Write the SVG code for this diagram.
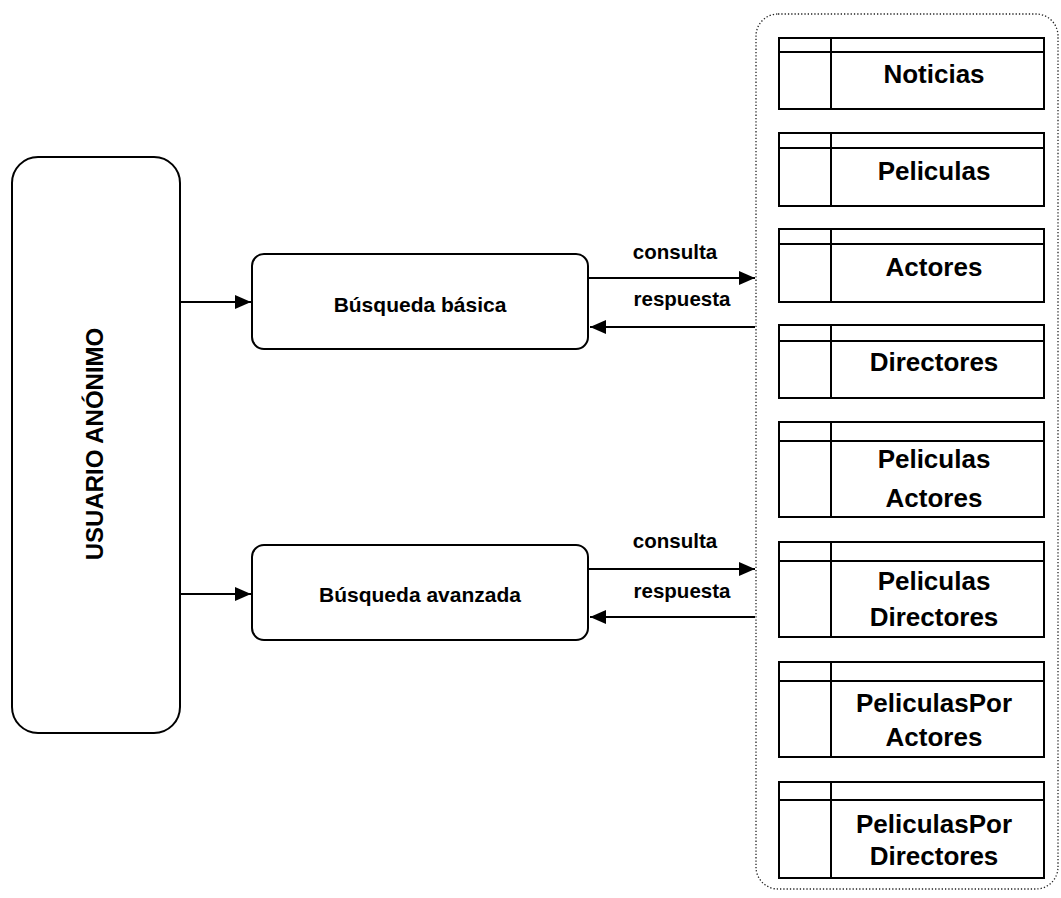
<svg xmlns="http://www.w3.org/2000/svg" width="1061" height="898" viewBox="0 0 1061 898">
<defs>
<marker id="ah" viewBox="0 0 16 14" refX="16" refY="7" markerWidth="16" markerHeight="14" markerUnits="userSpaceOnUse" orient="auto">
<path d="M0,0 L16,7 L0,14 Z" fill="#000"/>
</marker>
</defs>
<style>
.box{fill:#fff;stroke:#000;stroke-width:2}
.tbl{fill:#fff;stroke:#000;stroke-width:2}
.ln{stroke:#000;stroke-width:2;fill:none}
.t{font-family:"Liberation Sans",Arial,sans-serif;font-weight:bold;fill:#000}
.tt{font-size:26px;text-anchor:middle}
.bl{font-size:21px;text-anchor:middle}
.lb{font-size:20.5px;text-anchor:middle}
.cn{stroke:#000;stroke-width:2;fill:none;marker-end:url(#ah)}
</style>
<rect width="1061" height="898" fill="#fff"/>

<g id="container">
<rect x="756" y="14" width="302" height="875" rx="22" ry="22" fill="none" stroke="#222" stroke-width="1.3" stroke-dasharray="1.3,2"/>
</g>

<g id="usuario">
<rect class="box" x="12" y="157" width="168" height="576" rx="26" ry="26" stroke-width="1.6"/>
<text class="t" font-size="24" text-anchor="middle" transform="translate(103,444) rotate(-90)">USUARIO ANÓNIMO</text>
</g>

<g id="busqueda-basica">
<rect class="box" x="252" y="254" width="336" height="95" rx="12" ry="12"/>
<text class="t bl" x="420" y="312">Búsqueda básica</text>
</g>

<g id="busqueda-avanzada">
<rect class="box" x="252" y="545" width="336" height="95" rx="12" ry="12"/>
<text class="t bl" x="420" y="602">Búsqueda avanzada</text>
</g>

<g id="tbl-noticias">
<rect class="tbl" x="779" y="38" width="265" height="71"/>
<path class="ln" d="M779,52 H1044 M831,38 V109"/>
<text class="t tt" x="934" y="83">Noticias</text>
</g>

<g id="tbl-peliculas">
<rect class="tbl" x="779" y="133" width="265" height="73"/>
<path class="ln" d="M779,148 H1044 M831,133 V206"/>
<text class="t tt" x="934" y="180">Peliculas</text>
</g>

<g id="tbl-actores">
<rect class="tbl" x="779" y="229" width="265" height="73"/>
<path class="ln" d="M779,244 H1044 M831,229 V302"/>
<text class="t tt" x="934" y="276">Actores</text>
</g>

<g id="tbl-directores">
<rect class="tbl" x="779" y="325" width="265" height="73"/>
<path class="ln" d="M779,341 H1044 M831,325 V398"/>
<text class="t tt" x="934" y="371">Directores</text>
</g>

<g id="tbl-peliculas-actores">
<rect class="tbl" x="779" y="422" width="265" height="95"/>
<path class="ln" d="M779,441 H1044 M831,422 V517"/>
<text class="t tt" x="934" y="468">Peliculas</text>
<text class="t tt" x="934" y="507">Actores</text>
</g>

<g id="tbl-peliculas-directores">
<rect class="tbl" x="779" y="542" width="265" height="95"/>
<path class="ln" d="M779,561 H1044 M831,542 V637"/>
<text class="t tt" x="934" y="590">Peliculas</text>
<text class="t tt" x="934" y="626">Directores</text>
</g>

<g id="tbl-peliculaspor-actores">
<rect class="tbl" x="779" y="662" width="265" height="95"/>
<path class="ln" d="M779,681 H1044 M831,662 V757"/>
<text class="t tt" x="934" y="712">PeliculasPor</text>
<text class="t tt" x="934" y="746">Actores</text>
</g>

<g id="tbl-peliculaspor-directores">
<rect class="tbl" x="779" y="782" width="265" height="96"/>
<path class="ln" d="M779,800 H1044 M831,782 V878"/>
<text class="t tt" x="934" y="833">PeliculasPor</text>
<text class="t tt" x="934" y="865">Directores</text>
</g>

<g id="connectors">
<line class="cn" x1="180" y1="302" x2="251" y2="302"/>
<line class="cn" x1="180" y1="594" x2="251" y2="594"/>
<line class="cn" x1="588" y1="278" x2="755" y2="278"/>
<line class="cn" x1="755" y1="327" x2="590" y2="327"/>
<line class="cn" x1="588" y1="569" x2="755" y2="569"/>
<line class="cn" x1="755" y1="617" x2="590" y2="617"/>
<text class="t lb" x="675" y="259">consulta</text>
<text class="t lb" x="682" y="306">respuesta</text>
<text class="t lb" x="675" y="548">consulta</text>
<text class="t lb" x="682" y="598">respuesta</text>
</g>
</svg>
